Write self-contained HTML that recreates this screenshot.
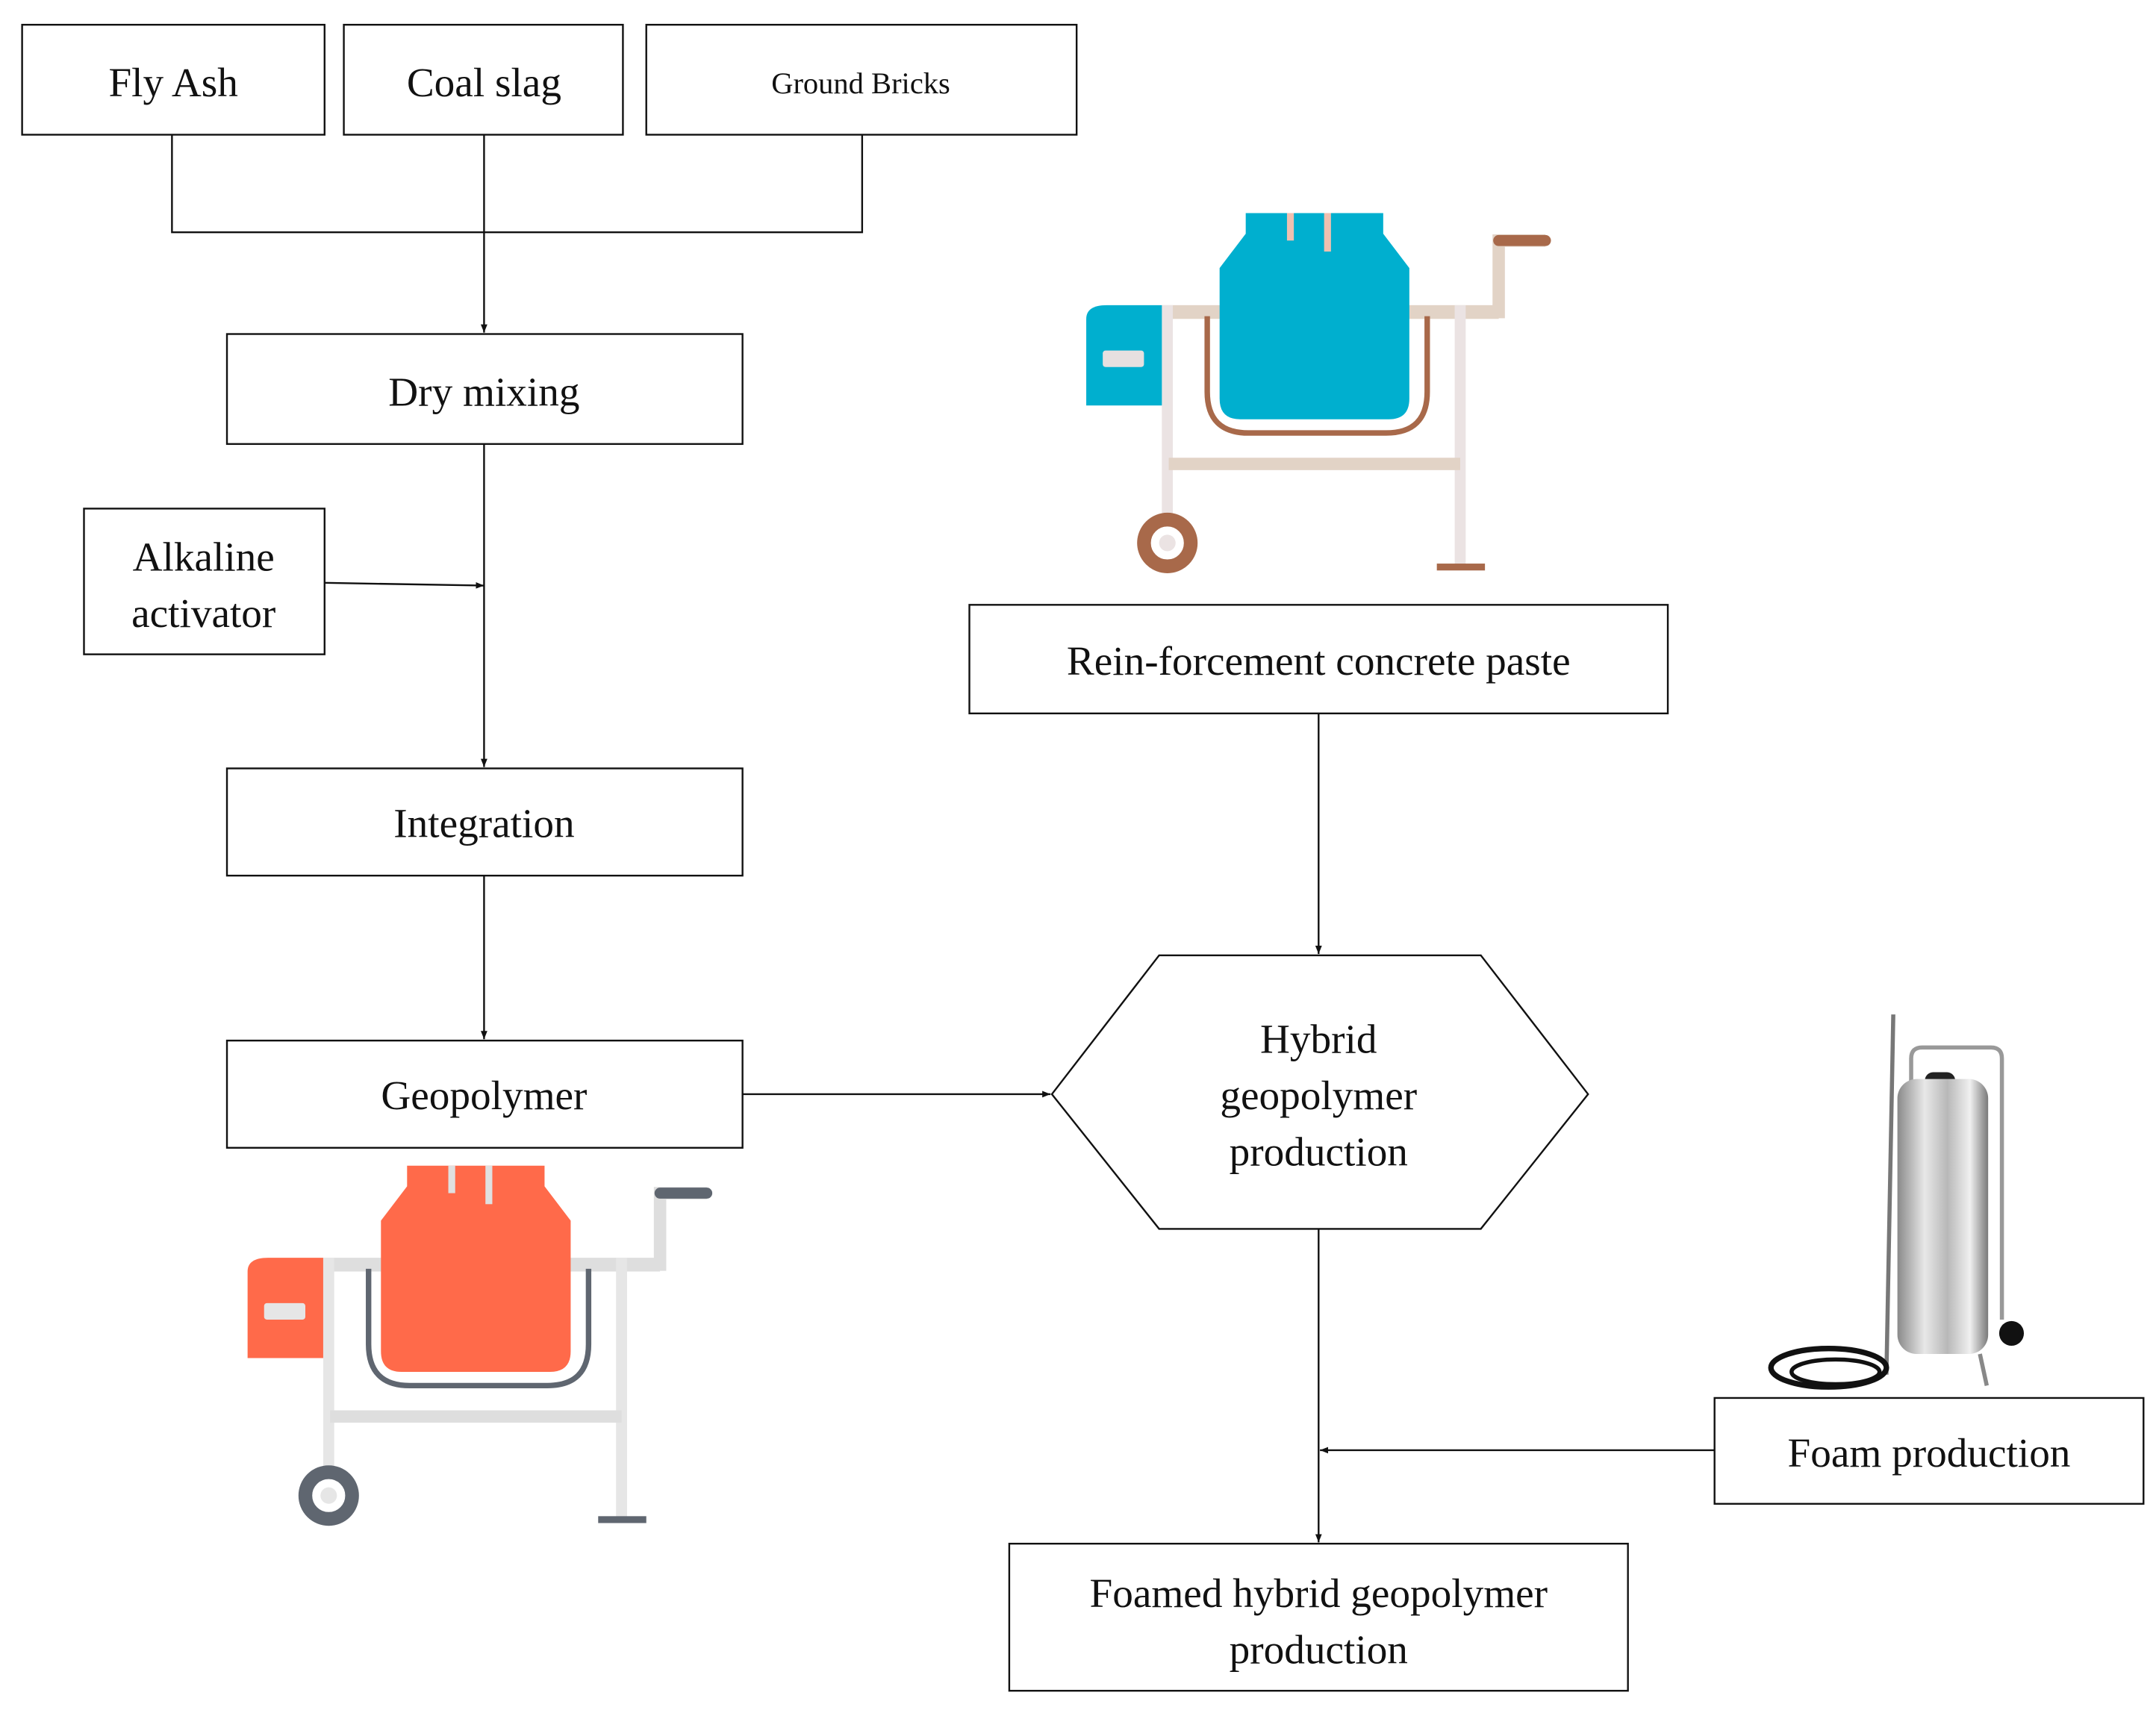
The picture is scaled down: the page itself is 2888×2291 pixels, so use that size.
<!DOCTYPE html>
<html><head><meta charset="utf-8"><style>
html,body{margin:0;padding:0;background:#fff;}
svg{display:block;}
text{font-family:"Liberation Serif",serif;fill:#111;}
</style></head><body>
<svg width="2888" height="2291" viewBox="0 0 1568 1244" xmlns="http://www.w3.org/2000/svg">
<defs>
<marker id="ah" viewBox="0 0 10 10" refX="10" refY="5" markerWidth="6" markerHeight="6" orient="auto" markerUnits="userSpaceOnUse"><path d="M0,1 L10,5 L0,9 z" fill="#111"/></marker>
<linearGradient id="steel" x1="0" x2="1"><stop offset="0" stop-color="#8a8a8a"/><stop offset="0.3" stop-color="#e8e8e8"/><stop offset="0.55" stop-color="#b8b8b8"/><stop offset="0.8" stop-color="#f0f0f0"/><stop offset="1" stop-color="#7a7a7a"/></linearGradient>
</defs>
<g fill="none" stroke="#111" stroke-width="1.3">
<rect x="16" y="18" width="220" height="80"/>
<rect x="250" y="18" width="203" height="80"/>
<rect x="470" y="18" width="313" height="80"/>
<polyline points="125,98 125,169 627,169 627,98"/>
<line x1="352" y1="98" x2="352" y2="242" marker-end="url(#ah)"/>
<rect x="165" y="243" width="375" height="80"/>
<rect x="61" y="370" width="175" height="106"/>
<line x1="352" y1="323" x2="352" y2="558" marker-end="url(#ah)"/>
<line x1="236" y1="424" x2="352" y2="426" marker-end="url(#ah)"/>
<rect x="165" y="559" width="375" height="78"/>
<line x1="352" y1="637" x2="352" y2="756" marker-end="url(#ah)"/>
<rect x="165" y="757" width="375" height="78"/>
<line x1="540" y1="796" x2="764" y2="796" marker-end="url(#ah)"/>
<polygon points="765,796 843,695 1077,695 1155,796 1077,894 843,894"/>
<rect x="705" y="440" width="508" height="79"/>
<line x1="959" y1="519" x2="959" y2="694" marker-end="url(#ah)"/>
<line x1="959" y1="894" x2="959" y2="1122" marker-end="url(#ah)"/>
<line x1="1247" y1="1055" x2="960" y2="1055" marker-end="url(#ah)"/>
<rect x="1247" y="1017" width="312" height="77"/>
<rect x="734" y="1123" width="450" height="107"/>
</g>
<g font-size="30" text-anchor="middle">
<text x="126" y="70">Fly Ash</text>
<text x="352" y="70">Coal slag</text>
<text x="626" y="68" font-size="22">Ground Bricks</text>
<text x="352" y="295">Dry mixing</text>
<text x="148" y="415">Alkaline</text>
<text x="148" y="456">activator</text>
<text x="352" y="609">Integration</text>
<text x="352" y="807">Geopolymer</text>
<text x="959" y="491">Rein-forcement concrete paste</text>
<text x="959" y="766">Hybrid</text>
<text x="959" y="807">geopolymer</text>
<text x="959" y="848">production</text>
<text x="1403" y="1067">Foam production</text>
<text x="959" y="1169">Foamed hybrid geopolymer</text>
<text x="959" y="1210">production</text>
</g>
<g>
<rect x="845" y="222" width="245" height="10" fill="#e2d3c6"/>
<polyline points="1066,227 1090,227 1090,175 1124,175" fill="none" stroke="#e2d3c6" stroke-width="9"/>
<line x1="1090" y1="175" x2="1124" y2="175" stroke="#a8694a" stroke-width="8" stroke-linecap="round"/>
<rect x="845" y="222" width="8" height="160" fill="#ebe3e3"/>
<rect x="1058" y="222" width="8" height="190" fill="#ebe3e3"/>
<rect x="850" y="333" width="212" height="9" fill="#e2d3c6"/>
<rect x="1045" y="410" width="35" height="5" fill="#a8694a"/>
<path d="M878,230 L878,285 Q878,315 908,315 L1008,315 Q1038,315 1038,285 L1038,230" fill="none" stroke="#a8694a" stroke-width="4"/>
<path d="M906,155 L1006,155 L1006,170 L1025,195 L1025,290 Q1025,305 1010,305 L902,305 Q887,305 887,290 L887,195 L906,170 z" fill="#00afcf"/>
<rect x="936" y="155" width="5" height="20" fill="#f0c0b0"/><rect x="963" y="155" width="5" height="28" fill="#f0c0b0"/>
<path d="M790,232 Q790,222 805,222 L845,222 L845,295 L790,295 z" fill="#00afcf"/>
<rect x="802" y="255" width="30" height="12" rx="2" fill="#e6e0e0"/>
<circle cx="849" cy="395" r="17" fill="none" stroke="#a8694a" stroke-width="10"/>
<circle cx="849" cy="395" r="6" fill="#ebe3e3"/>
</g>
<g transform="translate(-610,693)">
<rect x="845" y="222" width="245" height="10" fill="#dedede"/>
<polyline points="1066,227 1090,227 1090,175 1124,175" fill="none" stroke="#dedede" stroke-width="9"/>
<line x1="1090" y1="175" x2="1124" y2="175" stroke="#5f6670" stroke-width="8" stroke-linecap="round"/>
<rect x="845" y="222" width="8" height="160" fill="#e6e6e6"/>
<rect x="1058" y="222" width="8" height="190" fill="#e6e6e6"/>
<rect x="850" y="333" width="212" height="9" fill="#dedede"/>
<rect x="1045" y="410" width="35" height="5" fill="#5f6670"/>
<path d="M878,230 L878,285 Q878,315 908,315 L1008,315 Q1038,315 1038,285 L1038,230" fill="none" stroke="#5f6670" stroke-width="4"/>
<path d="M906,155 L1006,155 L1006,170 L1025,195 L1025,290 Q1025,305 1010,305 L902,305 Q887,305 887,290 L887,195 L906,170 z" fill="#ff6a4a"/>
<rect x="936" y="155" width="5" height="20" fill="#e0e0e0"/><rect x="963" y="155" width="5" height="28" fill="#e0e0e0"/>
<path d="M790,232 Q790,222 805,222 L845,222 L845,295 L790,295 z" fill="#ff6a4a"/>
<rect x="802" y="255" width="30" height="12" rx="2" fill="#e6e6e6"/>
<circle cx="849" cy="395" r="17" fill="none" stroke="#5f6670" stroke-width="10"/>
<circle cx="849" cy="395" r="6" fill="#e6e6e6"/>
</g>
<g>
<line x1="1377" y1="738" x2="1372" y2="1000" stroke="#777" stroke-width="3"/>
<path d="M1390,800 L1390,770 Q1390,762 1398,762 L1448,762 Q1456,762 1456,770 L1456,960" fill="none" stroke="#999" stroke-width="3"/>
<rect x="1400" y="780" width="22" height="20" rx="6" fill="#222"/>
<rect x="1380" y="785" width="66" height="200" rx="14" fill="url(#steel)"/>
<circle cx="1463" cy="970" r="9" fill="#111"/>
<ellipse cx="1330" cy="995" rx="42" ry="14" fill="none" stroke="#111" stroke-width="4"/>
<ellipse cx="1335" cy="998" rx="32" ry="9" fill="none" stroke="#111" stroke-width="3"/>
<line x1="1440" y1="985" x2="1445" y2="1008" stroke="#888" stroke-width="3"/>
</g>
</svg>
</body></html>
